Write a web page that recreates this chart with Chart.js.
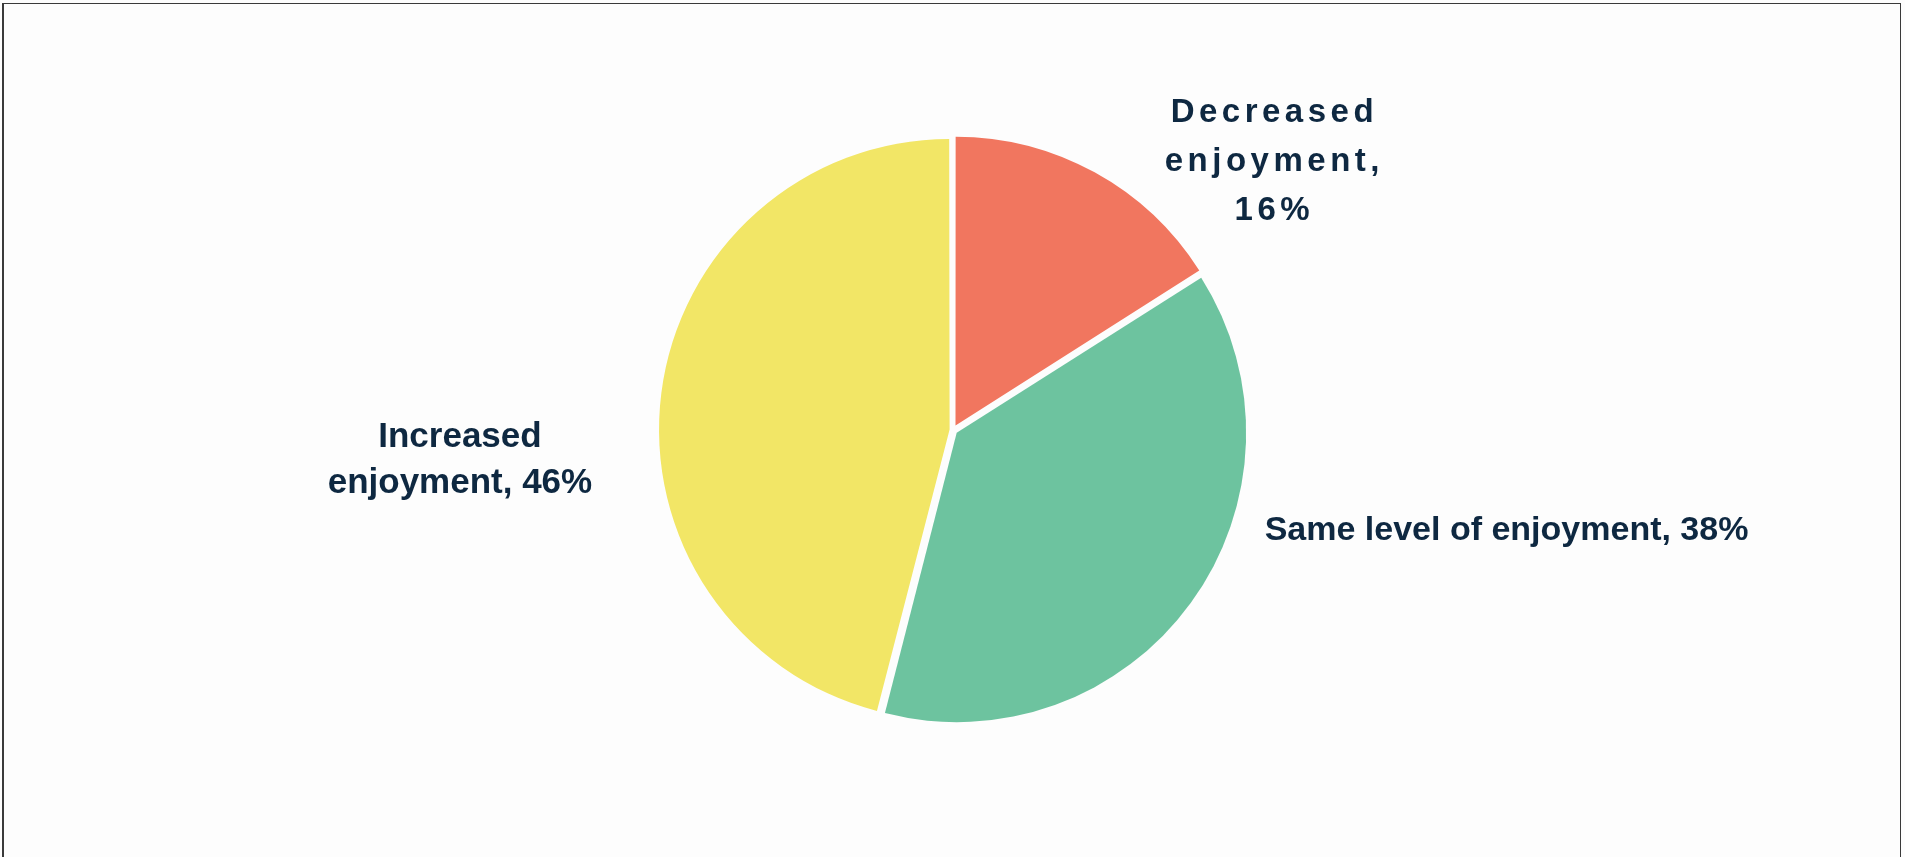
<!DOCTYPE html>
<html>
<head>
    <title>Change in enjoyment</title>
    <script src="https://cdn.jsdelivr.net/npm/chart.js@4.4.1/dist/chart.umd.min.js"></script>
    <style>
        html, body {
            margin: 0;
            padding: 0;
            background: #fdfdfd;
            overflow: hidden;
        }
        .frame {
            position: absolute;
            left: 2px;
            top: 3px;
            width: 1899px;
            height: 900px;
            border: 1px solid #3a3a3a;
            border-left-width: 2px;
            box-sizing: border-box;
        }
        .chart-container {
            position: absolute;
            left: 0;
            top: 0;
            width: 1905px;
            height: 857px;
        }
    </style>
</head>
<body>
    <div class="frame"></div>
    <div class="chart-container">
        <canvas id="enjoymentChart"></canvas>
    </div>

    <script>
        const categories = ['Decreased enjoyment', 'Same level of enjoyment', 'Increased enjoyment'];
        const shares = [16, 38, 46];
        const sliceColors = ['#f1765f', '#6dc39f', '#f2e666'];

        // Chart.js moves an arc by offset/4 plus a bit more for wide arcs,
        // so these give each slice roughly the same 6px pull-out
        const sliceOffsets = [20.8, 18.3, 13.7];

        // where each label block sits, in pie radii from the centre,
        // plus the wrap width, font size and letter spacing used for it
        const labelStyles = [
            { dx: 1.108, dy: -0.94, wrap: 200, size: 33, spacing: 4.5, lineHeight: 49 },
            { dx: 1.922, dy: 0.339, wrap: 900, size: 34, spacing: 0, lineHeight: 46 },
            { dx: -1.712, dy: 0.097, wrap: 300, size: 35, spacing: 0, lineHeight: 46 }
        ];

        function wrapText(ctx, text, maxWidth) {
            const words = text.split(' ');
            const lines = [];
            let line = '';
            words.forEach(function(w) {
                const test = line ? line + ' ' + w : w;
                if (line && ctx.measureText(test).width > maxWidth) {
                    lines.push(line);
                    line = w;
                } else {
                    line = test;
                }
            });
            if (line) lines.push(line);
            return lines;
        }

        const sliceLabels = {
            id: 'sliceLabels',
            afterDatasetsDraw(chart) {
                const ctx = chart.ctx;
                const arcs = chart.getDatasetMeta(0).data;
                const area = chart.chartArea;
                const cx = (area.left + area.right) / 2;
                const cy = (area.top + area.bottom) / 2;
                ctx.save();
                ctx.fillStyle = '#0e2841';
                ctx.textAlign = 'center';
                ctx.textBaseline = 'alphabetic';
                arcs.forEach(function(arc, i) {
                    const st = labelStyles[i];
                    const r = arc.outerRadius;
                    ctx.font = 'bold ' + st.size + 'px "Liberation Sans", Arial, sans-serif';
                    ctx.letterSpacing = st.spacing + 'px';
                    const text = categories[i] + ', ' + shares[i] + '%';
                    const lines = wrapText(ctx, text, st.wrap);
                    const capHalf = st.size * 0.716 / 2;
                    const bx = cx + st.dx * r + st.spacing / 2;
                    const by = cy + st.dy * r - (lines.length - 1) * st.lineHeight / 2;
                    lines.forEach(function(ln, k) {
                        ctx.fillText(ln, bx, by + k * st.lineHeight + capHalf);
                    });
                });
                ctx.restore();
            }
        };

        const ctx = document.getElementById('enjoymentChart').getContext('2d');
        new Chart(ctx, {
            type: 'pie',
            data: {
                labels: categories,
                datasets: [{
                    data: shares,
                    backgroundColor: sliceColors,
                    borderWidth: 0,
                    offset: sliceOffsets,
                    hoverOffset: 0
                }]
            },
            options: {
                responsive: true,
                maintainAspectRatio: false,
                animation: false,
                radius: 288,
                layout: {
                    padding: { top: 3, left: 1 }
                },
                plugins: {
                    legend: { display: false },
                    tooltip: { enabled: false }
                }
            },
            plugins: [sliceLabels]
        });
    </script>
</body>
</html>
